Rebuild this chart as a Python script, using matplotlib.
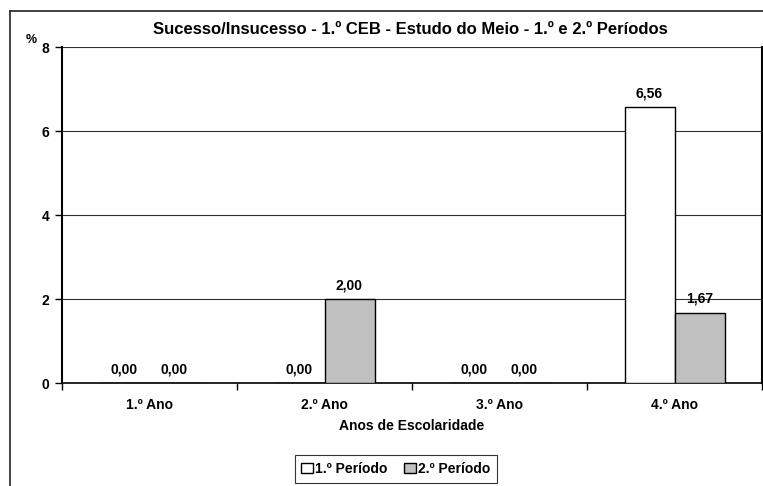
import numpy as np
import matplotlib
matplotlib.use('Agg')
import matplotlib.pyplot as plt
from matplotlib.lines import Line2D

plt.rcParams['font.family'] = ['Liberation Sans', 'DejaVu Sans']
plt.rcParams['font.weight'] = 'bold'

# data
anos = ['1.º Ano', '2.º Ano', '3.º Ano', '4.º Ano']
periodo1 = [0.00, 0.00, 0.00, 6.56]
periodo2 = [0.00, 2.00, 0.00, 1.67]
series_names = ['1.º Período', '2.º Período']
yticks = [0, 2, 4, 6, 8]

W, H = 763, 486
fig = plt.figure(figsize=(W / 100, H / 100), dpi=100)
ax = fig.add_axes([62 / W, 1 - 383 / H, 700 / W, 336 / H])

x = np.arange(len(anos))
bw = 50 / 175
b1 = ax.bar(x - bw / 2, periodo1, bw, color='white', edgecolor='black', linewidth=1.0, zorder=3)
b2 = ax.bar(x + bw / 2, periodo2, bw, color='#c0c0c0', edgecolor='black', linewidth=1.0, zorder=3)

# value labels, Portuguese decimal comma
for bars, vals in ((b1, periodo1), (b2, periodo2)):
    for rect, v in zip(bars, vals):
        ax.annotate(('%.2f' % v).replace('.', ','),
                    (rect.get_x() + rect.get_width() / 2, v),
                    xytext=(0, 10), textcoords='offset points',
                    ha='center', va='center', fontsize=10, fontweight='bold')

ax.set_xlim(-0.5, len(anos) - 0.5)
ax.set_ylim(0, 8)
ax.set_yticks(yticks)
ax.set_yticklabels([str(t) for t in yticks], fontsize=10, fontweight='bold')
ax.set_xticks(x)
ax.set_xticklabels(anos, fontsize=10, fontweight='bold')
ax.set_xticks(np.arange(-0.5, len(anos)), minor=True)
ax.tick_params(axis='x', which='major', length=0, pad=11)
ax.tick_params(axis='x', which='minor', length=5, width=1, direction='out')
ax.tick_params(axis='y', length=5, width=1, direction='out', pad=4)

for t in yticks[1:]:
    ax.axhline(t, color='#303030', linewidth=0.8, zorder=1)

ax.spines['top'].set_visible(False)
ax.spines['left'].set_linewidth(1.5)
ax.spines['bottom'].set_linewidth(1.2)
ax.spines['right'].set_linewidth(1.5)

ax.set_xlabel('Anos de Escolaridade', fontsize=10, fontweight='bold', labelpad=5)

fig.text(410 / W, 1 - 29 / H, 'Sucesso/Insucesso - 1.º CEB - Estudo do Meio - 1.º e 2.º Períodos',
         ha='center', va='center', fontsize=12, fontweight='bold')
fig.text(31 / W, 1 - 40 / H, '%', ha='center', va='center', fontsize=9, fontweight='bold')

# outer chart frame (left and top edges visible)
fig.add_artist(Line2D([10 / W, 10 / W], [0, 1 - 11 / H], color='#222222', linewidth=1.2))
fig.add_artist(Line2D([10 / W, 1], [1 - 11 / H, 1 - 11 / H], color='#222222', linewidth=1.2))

leg = fig.legend([b1, b2], series_names, loc='center', bbox_to_anchor=(396 / W, 1 - 469 / H),
                 ncol=2, fontsize=10, frameon=True, fancybox=False, handlelength=0.8,
                 handleheight=0.8, handletextpad=0.2, columnspacing=1.2, borderpad=0.5)
leg.get_frame().set_edgecolor('black')
leg.get_frame().set_linewidth(0.8)
for t in leg.get_texts():
    t.set_fontweight('bold')

fig.savefig('out.png', dpi=100)
